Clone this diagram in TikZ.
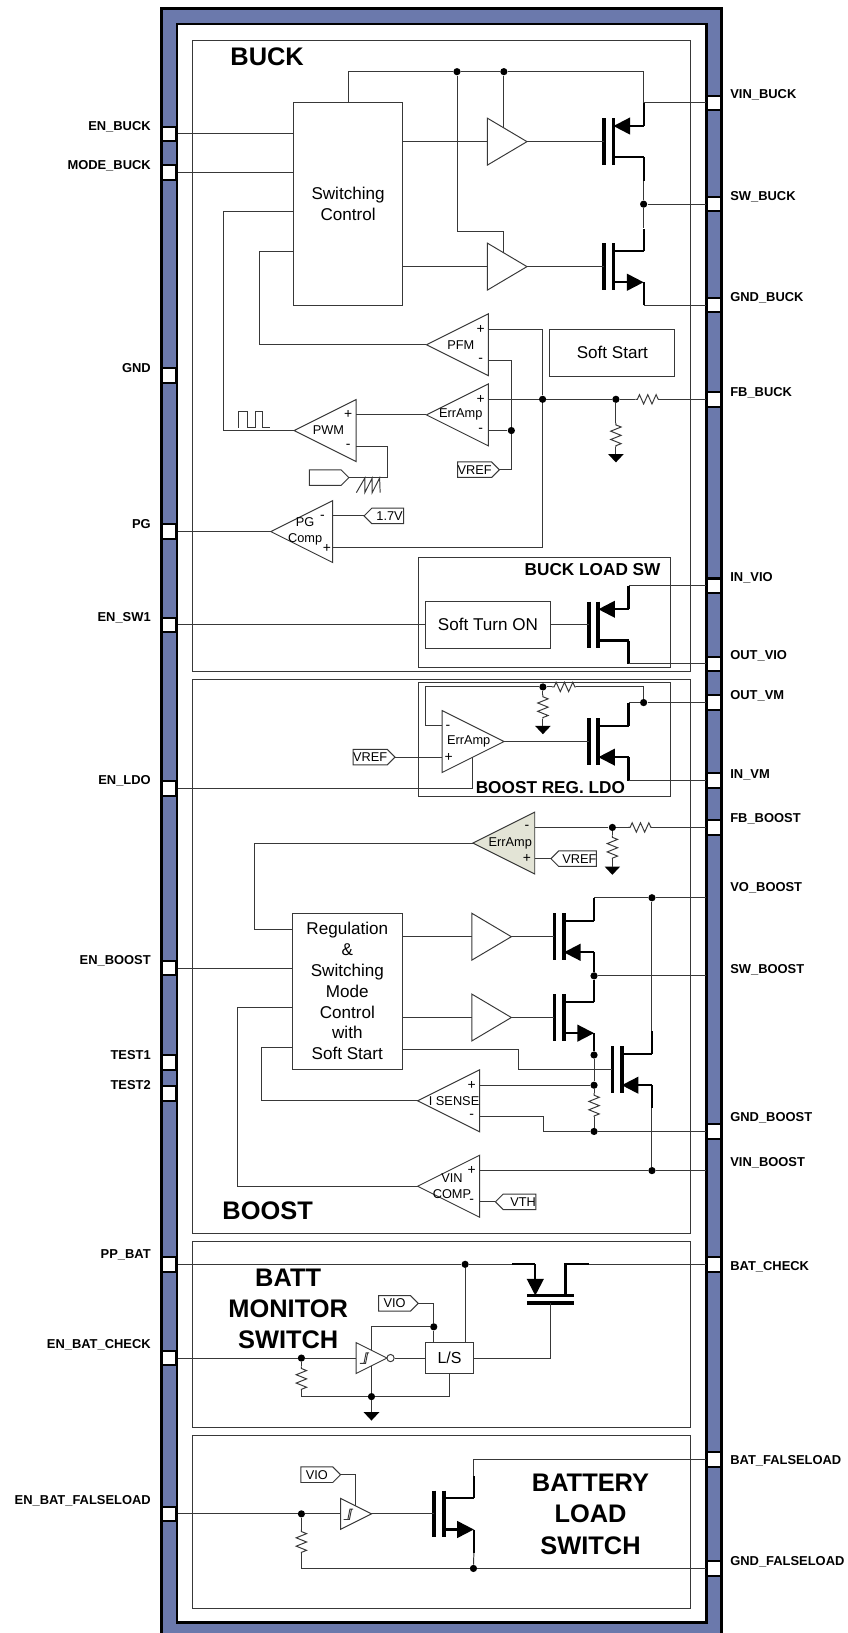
\documentclass[tikz,border=0pt]{standalone}
\usepackage{fontspec}
\setmainfont{Liberation Sans}
\usetikzlibrary{shapes.geometric,shapes.symbols,arrows.meta,calc}

\definecolor{barblue}{HTML}{6B79AC}
\definecolor{ampfill}{HTML}{E3E4D6}
\definecolor{wirecol}{gray}{0.22}

\tikzset{
  wire/.style={draw=wirecol,line width=0.7pt},
  fetbar/.style={draw=black,line width=2.7pt},
  fetleg/.style={draw=black,line width=1.5pt},
  fetin/.style={{Triangle[length=12pt,width=12pt]}-},
  fetout/.style={-{Triangle[length=12pt,width=12pt]}},
  pad/.style={rectangle,draw=black,fill=white,line width=1.5pt,minimum width=10.5pt,minimum height=10.5pt,inner sep=0pt},
  pinlabel/.style={font=\fontsize{9.3}{11}\selectfont\bfseries,inner sep=0pt,text height=6.7pt,text depth=0pt},
  panel/.style={rectangle,draw=wirecol,line width=0.7pt,inner sep=0pt},
  blockbox/.style={rectangle,draw=wirecol,line width=0.7pt,fill=white,inner sep=0pt,align=center,font=\fontsize{12.3}{15}\selectfont},
  amptri/.style={isosceles triangle,isosceles triangle stretches,draw=wirecol,line width=0.7pt,inner sep=0pt,outer sep=0pt,minimum width=44.6pt,minimum height=44.6pt,anchor=apex},
  buftri/.style={isosceles triangle,isosceles triangle stretches,draw=wirecol,line width=0.7pt,inner sep=0pt,outer sep=0pt,fill=white,minimum width=33.8pt,minimum height=28.5pt,anchor=apex},
  smalltri/.style={isosceles triangle,isosceles triangle stretches,draw=wirecol,line width=0.7pt,inner sep=0pt,outer sep=0pt,fill=white,minimum width=22.3pt,minimum height=22.3pt,anchor=apex},
  amptext/.style={font=\fontsize{9.2}{11.5}\selectfont,inner sep=0pt,align=center},
  pinsign/.style={font=\fontsize{10}{11}\selectfont,inner sep=0pt},
  tag/.style={signal,draw=wirecol,line width=0.7pt,fill=white,inner sep=0pt,outer sep=0pt,minimum width=28.5pt,minimum height=11.2pt,font=\fontsize{9.2}{11}\selectfont},
  tagright/.style={tag,signal to=east,signal from=nowhere,anchor=east},
  tagleft/.style={tag,signal to=west,signal from=nowhere,anchor=west},
  dot/.style={circle,fill=black,inner sep=0pt,minimum size=5.2pt},
  bigtitle/.style={font=\fontsize{18.3}{22.5}\selectfont\bfseries,inner sep=0pt,align=center},
  midtitle/.style={font=\fontsize{12.4}{15}\selectfont\bfseries,inner sep=0pt}
}

% amplifier pointing left: name, tip x, tip y, text, upper sign, lower sign
\newcommand{\ampleft}[7][white]{
  \node[amptri,shape border rotate=180,fill=#1] (#2) at (#3,#4) {};
  \node[amptext] (#2-txt) at (#3+33,#4) {#5};
  \node[pinsign] (#2-us) at (#3+52,#4-15) {#6};
  \node[pinsign] (#2-ls) at (#3+52,#4+15) {#7};
  \coordinate (#2-up) at (#3+59.5,#4-15);
  \coordinate (#2-lo) at (#3+59.5,#4+15);
}
% mosfet: name, gate x, gate y, style of upper leg, style of lower leg
\newcommand{\mosfet}[5]{
  \draw[fetbar] (#2,#3-22.4) -- (#2,#3+22.4);
  \draw[fetbar] (#2+9,#3-22.4) -- (#2+9,#3+22.4);
  \coordinate (#1-g) at (#2,#3);
  \coordinate (#1-d) at (#2+38,#3-15);
  \coordinate (#1-s) at (#2+38,#3+15);
  \draw[fetleg,#4] (#2+9,#3-15) -- (#1-d);
  \draw[fetleg,#5] (#2+9,#3+15) -- (#1-s);
}
% resistors: name, x, y of the first end
\newcommand{\resv}[3]{
  \coordinate (#1-a) at (#2,#3);
  \draw[wire] (#1-a) -- ++(0,2) -- ++(5,2) -- ++(-10,4) -- ++(10,4) -- ++(-10,4) -- ++(10,4) -- ++(-5,2) -- ++(0,1) coordinate (#1-b);
}
\newcommand{\resh}[3]{
  \coordinate (#1-a) at (#2,#3);
  \draw[wire] (#1-a) -- ++(2,0) -- ++(2,-4.5) -- ++(4,9) -- ++(4,-9) -- ++(4,9) -- ++(4,-9) -- ++(2,4.5) -- ++(1,0) coordinate (#1-b);
}
\newcommand{\gnd}[3]{
  \coordinate (#1) at (#2,#3);
  \fill[black] (#2-7.5,#3) -- (#2+7.5,#3) -- (#2,#3+8) -- cycle;
}
\newcommand{\schmitt}[2]{
  \draw[wire] (#1-5,#2+5) -- (#1-1,#2+5) -- (#1+1,#2-5) -- (#1+4,#2-5);
  \draw[wire] (#1-1.5,#2+5) -- (#1+0.5,#2+5) -- (#1+2.5,#2-5);
}

\begin{document}
\begin{tikzpicture}[x=0.75pt,y=-0.75pt]
\useasboundingbox (0,0) rectangle (814,1568);

% package frame
\fill[barblue] (155,8) rectangle (693,1568);
\draw[black,line width=2pt] (155,1568) -- (155,8) -- (693,8) -- (693,1568);
\draw[black,line width=2pt,fill=white] (170,23) rectangle (678,1558);

% panels
\node[panel,minimum width=358.5pt,minimum height=454.5pt] (buckpanel) at (424,342) {};
\node[panel,minimum width=358.5pt,minimum height=399pt] (boostpanel) at (424,918) {};
\node[panel,minimum width=358.5pt,minimum height=134.25pt] (battpanel) at (424,1281.5) {};
\node[panel,minimum width=358.5pt,minimum height=124.5pt] (loadpanel) at (424,1461) {};
\node[panel,minimum width=181.35pt,minimum height=79.2pt] (loadswpanel) at (522.5,587.8) {};
\node[panel,minimum width=181.35pt,minimum height=82.5pt] (ldopanel) at (522.5,710) {};

% titles
\node[bigtitle] (bucktitle) at (256.5,54.4) {BUCK};
\node[bigtitle] (boosttitle) at (257,1163) {BOOST};
\node[bigtitle] (batttitle) at (276.7,1257) {BATT\\MONITOR\\SWITCH};
\node[bigtitle] (loadtitle) at (567,1454) {BATTERY\\LOAD\\SWITCH};
\node[midtitle] (loadswtitle) at (569,547) {BUCK LOAD SW};
\node[midtitle] (ldotitle) at (528.5,756) {BOOST REG. LDO};

% pads on the left
\foreach \padname/\padtext/\ypad/\ytext in {enbuck/EN\_BUCK/128.6/121,modebuck/MODE\_BUCK/165.6/158,gndpad/GND/360.5/353,pg/PG/510.4/503,ensw/EN\_SW1/600/592,enldo/EN\_LDO/757/749,enboost/EN\_BOOST/929.6/922,testa/TEST1/1020/1013,testb/TEST2/1050/1042,ppbat/PP\_BAT/1214/1204,enbat/EN\_BAT\_CHECK/1304/1290,enfalse/EN\_BAT\_FALSELOAD/1453.6/1440}{
  \node[pad] (\padname) at (162.5,\ypad) {};
  \node[pinlabel,anchor=east] (\padname-lbl) at (145,\ytext) {\padtext};
}
% pads on the right
\foreach \padname/\padtext/\ypad/\ytext in {vinbuck/VIN\_BUCK/98.8/90,swbuck/SW\_BUCK/196/188,gndbuck/GND\_BUCK/293/285,fbbuck/FB\_BUCK/383.4/376,invio/IN\_VIO/562.5/554,outvio/OUT\_VIO/637.5/629,outvm/OUT\_VM/674.6/667,invm/IN\_VM/749.6/743,fbboost/FB\_BOOST/794.5/785,gndboost/GND\_BOOST/1086.4/1072,batcheck/BAT\_CHECK/1214/1215,batfalse/BAT\_FALSELOAD/1401.6/1402,gndfalse/GND\_FALSELOAD/1506/1499}{
  \node[pad] (\padname) at (685.5,\ypad) {};
  \node[pinlabel,anchor=west] (\padname-lbl) at (701,\ytext) {\padtext};
}
% pins with no pad
\foreach \padname/\padtext/\ypad/\ytext in {voboost/VO\_BOOST/862/852,swboost/SW\_BOOST/937/930,vinboost/VIN\_BOOST/1124/1116}{
  \coordinate (\padname) at (678,\ypad);
  \node[pinlabel,anchor=west] (\padname-lbl) at (701,\ytext) {\padtext};
}

%%% BUCK
\node[blockbox,minimum width=78.4pt,minimum height=146.2pt] (swctl) at (334.2,196) {Switching\\Control};
\node[blockbox,minimum width=90pt,minimum height=33.8pt] (softstart) at (588,338.5) {Soft Start};
\node[blockbox,minimum width=89.8pt,minimum height=33.6pt] (softon) at (468.5,600) {Soft Turn ON};

\node[buftri] (bufhi) at (506,136) {};
\node[buftri] (buflo) at (506,256) {};
\mosfet{mhi}{580}{136}{fetin}{}
\mosfet{mlo}{580}{256}{}{fetout}
\mosfet{mvio}{565.5}{600}{fetin}{}

\ampleft{pfm}{409.5}{331}{PFM}{+}{-}
\ampleft{erra}{409.5}{398.4}{ErrAmp}{+}{-}
\ampleft{pwm}{282.4}{413.4}{PWM}{+}{-}
\ampleft{pgcomp}{260}{510.4}{PG\\Comp}{}{}
\node[pinsign] (pgm) at (309.6,497) {-};
\node[pinsign] (pgp) at (314,527) {+};

\node[tagright] (vrefbuck) at (479.5,451) {VREF};
\node[tagright] (rampin) at (335,458.6) {};
\node[tagleft] (tagpg) at (349.6,495.4) {\ 1.7V};

\node[dot] (dotvina) at (438.8,68.8) {};
\node[dot] (dotvinb) at (483.8,68.8) {};
\node[dot] (dotsw) at (618,196) {};
\node[dot] (dotfb) at (521,383.4) {};
\node[dot] (dotfbr) at (591.4,383.4) {};
\node[dot] (dotref) at (491,413.4) {};
\coordinate (vinj) at (618,98.8);
\coordinate (swa) at (282,203.5);
\coordinate (swb) at (282,241);
\coordinate (bufhitop) at (483.8,122.6);
\coordinate (buflotop) at (483.8,242.6);

\draw[wire] (swctl.north) |- (dotvina) -- (dotvinb) -| (vinj) -- (vinbuck.west);
\draw[wire] (dotvinb) -- (bufhitop);
\draw[wire] (dotvina) |- (483.8,221.8) -- (buflotop);
\draw[wire] (enbuck.east) -- (enbuck -| swctl.west);
\draw[wire] (modebuck.east) -- (modebuck -| swctl.west);
\draw[wire] (swctl.east |- bufhi.lower side) -- (bufhi.lower side);
\draw[wire] (swctl.east |- buflo.lower side) -- (buflo.lower side);
\draw[wire] (bufhi.apex) -- (mhi-g);
\draw[wire] (buflo.apex) -- (mlo-g);
\draw[fetleg] (mhi-d) -- (vinj);
\draw[fetleg] (mhi-s) -- ++(0,23);
\draw[fetleg] (mlo-d) -- ++(0,-21);
\draw[fetleg] (mlo-s) |- (618,293);
\draw[wire] (618,293) -- (gndbuck.west);
\draw[wire] (618,174) -- (dotsw) -- (618,219);
\draw[wire] (dotsw) -- (swbuck.west);

\draw[wire] (swa) -- ++(-67.3,0) |- (pwm.apex);
\draw[wire] (swb) -- ++(-33,0) |- (pfm.apex);
\draw[wire] (229,410.6) -- (229,395) -- (238,395) -- (238,410.6) -- (245,410.6) -- (245,395) -- (252,395) -- (252,410.6) -- (259,410.6);
\draw[wire] (pfm-up) -| (dotfb) |- (pgcomp-lo);
\draw[wire] (erra-up) -- (dotfb) -- (dotfbr);
\resh{rfb}{610}{383.4}
\draw[wire] (dotfbr) -- (rfb-a);
\draw[wire] (rfb-b) -- (fbbuck.west);
\resv{rfbv}{591.4}{406}
\draw[wire] (dotfbr) -- (rfbv-a);
\gnd{gndfb}{591.4}{436}
\draw[wire] (rfbv-b) -- (gndfb);
\draw[wire] (pfm-lo) -| (dotref);
\draw[wire] (erra-lo) -- (dotref);
\draw[wire] (dotref) |- (vrefbuck.east);
\draw[wire] (erra.apex) -- (pwm-up);
\draw[wire] (pwm-lo) -- ++(29.8,0) |- (rampin.east);
\draw[wire] (342.2,473) -- (350.3,459) -- (350.3,473) -- (357.4,459) -- (357.4,473) -- (364.5,459) -- (365,473);
\draw[wire] (pgcomp.apex) -- (pg.east);
\draw[wire] (pgcomp-up) -- (tagpg.west);

\draw[wire] (ensw.east) -- (softon.west);
\draw[wire] (softon.east) -- (mvio-g);
\draw[fetleg] (mvio-d) -- (mvio-d |- invio);
\draw[fetleg] (mvio-s) -- (mvio-s |- outvio);
\draw[wire] (mvio-d |- invio) -- (invio.west);
\draw[wire] (mvio-s |- outvio) -- (outvio.west);

%%% BOOST REG. LDO
\node[amptri,fill=white] (erral) at (484,712) {};
\node[amptext] (erral-txt) at (450,712) {ErrAmp};
\node[pinsign] (erral-m) at (430,698) {-};
\node[pinsign] (erral-p) at (430.7,727) {+};
\coordinate (erral-up) at (424,697);
\coordinate (erral-lo) at (424,727);
\mosfet{mldo}{565.5}{712}{}{fetin}
\node[tagright] (vrefldo) at (379.3,727) {VREF};
\node[dot] (dotldo) at (521.3,659.6) {};
\node[dot] (dotvm) at (618,674.6) {};
\resh{rldo}{530}{659.6}
\resv{rldov}{521.3}{667}
\gnd{gndldo}{521.3}{697}
\draw[wire] (erral-up) -- ++(-15.3,0) |- (dotldo) -- (rldo-a);
\draw[wire] (rldo-b) -| (dotvm);
\draw[wire] (dotldo) -- (rldov-a);
\draw[wire] (rldov-b) -- (gndldo);
\draw[wire] (vrefldo.east) -- (erral-lo);
\draw[wire] (erral.apex) -- (mldo-g);
\draw[fetleg] (mldo-d) -- (mldo-d |- outvm);
\draw[wire] (mldo-d |- outvm) -- (dotvm) -- (outvm.west);
\draw[fetleg] (mldo-s) -- (mldo-s |- invm);
\draw[wire] (mldo-s |- invm) -- (invm.west);
\draw[wire] (enldo.east) -- (454,757) -- (454,727);

%%% BOOST
\node[blockbox,minimum width=78.8pt,minimum height=112.1pt] (regctl) at (333.5,951.7) {Regulation\\\&\\Switching\\Mode\\Control\\with\\Soft Start};
\ampleft[ampfill]{errb}{454}{809.5}{}{-}{+}
\node[amptext] (errb-txt) at (490,809.5) {ErrAmp};
\node[tagleft] (vrefboost) at (529,824.5) {\ VREF};
\node[dot] (dotfbb) at (588,794.5) {};
\resh{rfbb}{603}{794.5}
\resv{rfbbv}{588}{802}
\gnd{gndfbb}{588}{832}
\draw[wire] (errb-up) -- (dotfbb) -- (rfbb-a);
\draw[wire] (rfbb-b) -- (fbboost.west);
\draw[wire] (dotfbb) -- (rfbbv-a);
\draw[wire] (rfbbv-b) -- (gndfbb);
\draw[wire] (errb-lo) -- (vrefboost.west);
\draw[wire] (errb.apex) -- ++(-209.2,0) |- (281,892);

\node[buftri] (bufa) at (491,899.4) {};
\node[buftri] (bufb) at (491,977) {};
\mosfet{ma}{532.4}{899.4}{}{fetin}
\mosfet{mb}{532.4}{977}{}{fetout}
\mosfet{mc}{588}{1027}{}{fetin}
\ampleft{isense}{401}{1057}{}{+}{-}
\node[amptext] (isense-txt) at (436,1057) {I SENSE};
\ampleft{vincomp}{401}{1139}{VIN\\COMP}{+}{-}
\node[tagleft] (tagvth) at (475.7,1154) {\ \ VTH};

\node[dot] (dotvo) at (626,862) {};
\node[dot] (dotswb) at (570.4,937) {};
\node[dot] (dotmb) at (570.4,1013) {};
\node[dot] (dotsa) at (570.4,1042) {};
\node[dot] (dotsb) at (570.4,1086.4) {};
\node[dot] (dotvb) at (626,1124) {};
\coordinate (rega) at (281,967);
\coordinate (regb) at (281,1006);
\coordinate (regc) at (386,1007.5);

\draw[wire] (enboost.east) -- (enboost -| regctl.west);
\draw[wire] (rega) -- ++(-52.5,0) |- (vincomp.apex);
\draw[wire] (regb) -- ++(-30,0) |- (isense.apex);
\draw[wire] (regctl.east |- bufa.lower side) -- (bufa.lower side);
\draw[wire] (regctl.east |- bufb.lower side) -- (bufb.lower side);
\draw[wire] (bufa.apex) -- (ma-g);
\draw[wire] (bufb.apex) -- (mb-g);
\draw[wire] (regc) -- ++(112,0) |- (mc-g);
\draw[fetleg] (ma-d) -- (ma-d |- voboost);
\draw[wire] (ma-d |- voboost) -- (dotvo) -- (voboost);
\draw[fetleg] (ma-s) -- (dotswb) -- (mb-d);
\draw[wire] (dotswb) -- (swboost);
\draw[fetleg] (mb-s) -- (dotmb);
\draw[wire] (dotmb) -- (dotsa);
\resv{rs}{570.4}{1049.6}
\draw[wire] (dotsa) -- (rs-a);
\draw[wire] (rs-b) -- (dotsb);
\draw[wire] (isense-up) -- (dotsa);
\draw[wire] (isense-lo) -- ++(61.5,0) |- (dotsb) -- (gndboost.west);
\draw[wire] (dotvo) -- (626,990);
\draw[fetleg] (626,990) -- (mc-d);
\draw[fetleg] (mc-s) -- (626,1064);
\draw[wire] (626,1064) -- (dotvb);
\draw[wire] (vincomp-up) -- (dotvb) -- (vinboost);
\draw[wire] (vincomp-lo) -- (tagvth.west);

%%% BATT MONITOR SWITCH
\node[blockbox,minimum width=34.5pt,minimum height=22.5pt] (ls) at (431.7,1304) {\fontsize{11.5}{14}\selectfont L/S};
\node[tagright] (tagvioa) at (401.6,1251.5) {VIO};
\node[dot] (dotpp) at (446.6,1214) {};
\node[dot] (dotvio) at (416.5,1274) {};
\node[dot] (dotin) at (289.4,1304) {};
\node[dot] (dotgnd) at (356.7,1341) {};
\coordinate (invtop) at (356.7,1296.3);
\coordinate (invbot) at (356.7,1311.7);
\node[smalltri] (inv) at (371.6,1304) {};
\node[circle,draw=wirecol,line width=0.7pt,fill=white,inner sep=0pt,minimum size=5.2pt] (bubble) at (375,1304) {};
\schmitt{350.5}{1304}
\resv{rbat}{289.4}{1312}
\gnd{gndbat}{356.7}{1356}
\draw[wire] (enbat.east) -- (dotin) -- (inv.lower side);
\draw[wire] (dotin) -- (rbat-a);
\draw[wire] (rbat-b) |- (dotgnd) -| (ls.south);
\draw[wire] (dotgnd) -- (gndbat);
\draw[wire] (bubble.east) -- (ls.west);
\draw[wire] (tagvioa.east) -| (dotvio);
\draw[wire] (dotvio) -- (dotvio |- ls.north);
\draw[wire] (dotvio) -| (invtop);
\draw[wire] (invbot) -- (dotgnd);
\draw[wire] (ppbat.east) -- (dotpp) -- (492,1214);
\draw[wire] (dotpp) -- (dotpp |- ls.north);
\draw[fetbar] (506,1244) -- (551,1244);
\draw[fetbar] (506,1251) -- (551,1251);
\draw[fetleg] (492,1214) -- (514,1214);
\draw[fetleg,fetout] (514,1214) -- (514,1244);
\draw[fetleg] (566,1214) -- (543,1214) -- (543,1244);
\draw[wire] (566,1214) -- (batcheck.west);
\draw[wire] (529,1251) |- (ls.east);

%%% BATTERY LOAD SWITCH
\node[tagright] (tagviob) at (327,1416) {VIO};
\node[smalltri] (bufload) at (356.7,1453.6) {};
\schmitt{335}{1454}
\mosfet{mload}{417}{1453.6}{}{fetout}
\node[dot] (dotload) at (289.4,1453.6) {};
\node[dot] (dotfalse) at (454.6,1506) {};
\resv{rload}{289.4}{1468.6}
\draw[wire] (enfalse.east) -- (dotload) -- (bufload.lower side);
\draw[wire] (dotload) -- (rload-a);
\draw[wire] (rload-b) |- (dotfalse) -- (gndfalse.west);
\draw[wire] (tagviob.east) -| (341.5,1446);
\draw[wire] (bufload.apex) -- (mload-g);
\draw[fetleg] (mload-d) -- ++(0,-21);
\draw[wire] (455,1417) |- (batfalse.west);
\draw[fetleg] (mload-s) -- ++(0,23);
\draw[wire] (455,1491) -- (dotfalse);
\end{tikzpicture}
\end{document}
